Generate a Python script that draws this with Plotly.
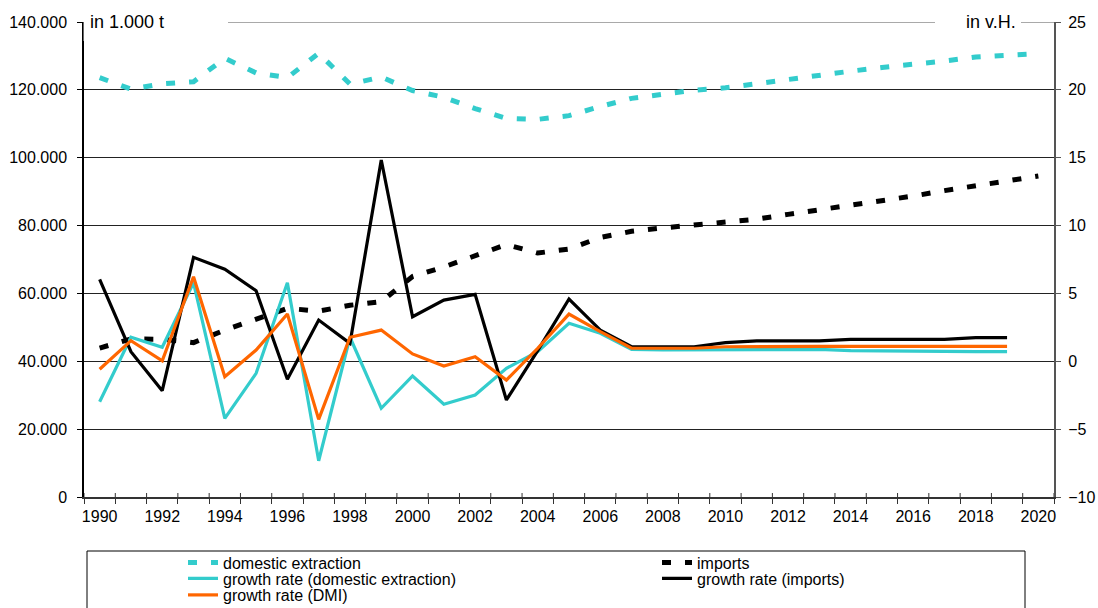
import plotly.graph_objects as go

# ---- data -------------------------------------------------------------
years = list(range(1990, 2021))
growth_years = list(range(1990, 2020))

# absolute values, in 1.000 t (left axis)
domestic_extraction = [
    123600, 120200, 121800, 122400, 129300, 125000, 123600, 130800, 121700, 123800,
    119800, 117800, 114500, 111600, 111300, 112400, 115100, 117500, 118700, 119900,
    120600, 121900, 123200, 124300, 125500, 126600, 127400, 128500, 129700, 130300,
    130700,
]
imports = [
    43900, 46600, 46500, 45500, 49200, 52500, 55600, 54800, 56500, 57600,
    65000, 67800, 71200, 74400, 71900, 73100, 76500, 78300, 79300, 80100,
    81000, 81900, 83300, 84600, 85900, 87200, 88700, 90300, 91700, 93200,
    94600,
]

# growth rates, in v.H. (right axis)
growth_domestic = [
    -2.98, 1.77, 1.03, 5.79, -4.20, -0.89, 5.79, -7.33, 1.77, -3.46,
    -1.08, -3.17, -2.48, -0.52, 0.71, 2.80, 2.06, 0.88, 0.83, 0.83,
    0.83, 0.88, 0.88, 0.88, 0.78, 0.75, 0.75, 0.71, 0.71, 0.71,
]
growth_imports = [
    6.04, 0.71, -2.17, 7.66, 6.78, 5.20, -1.33, 3.04, 1.32, 14.83,
    3.28, 4.51, 4.93, -2.85, 0.79, 4.59, 2.30, 1.07, 1.07, 1.07,
    1.38, 1.50, 1.50, 1.50, 1.62, 1.62, 1.62, 1.62, 1.74, 1.74,
]
growth_dmi = [
    -0.59, 1.52, 0.04, 6.23, -1.14, 0.83, 3.48, -4.28, 1.77, 2.30,
    0.54, -0.35, 0.34, -1.38, 0.96, 3.48, 2.18, 0.96, 0.96, 0.96,
    1.07, 1.10, 1.10, 1.10, 1.10, 1.10, 1.10, 1.10, 1.10, 1.10,
]

left_ticks = list(range(0, 140001, 20000))
right_ticks = list(range(-10, 26, 5))
label_years = list(range(1990, 2021, 2))

CYAN = "#33CCCC"
ORANGE = "#FF6600"
BLACK = "#000000"
FONT = "Liberation Sans, Arial, sans-serif"

W, H = 1098, 608
ML, MR, MT, MB = 84, 44, 22, 111
PW, PH = W - ML - MR, H - MT - MB


def px_x(px):
    return (px - ML) / PW


def px_y(py):
    return (H - MB - py) / PH


DASH = "9px,14px"

# one legend per entry so the two-column, tightly packed layout can be placed freely
fig = go.Figure()
fig.add_trace(go.Scatter(
    x=years, y=domestic_extraction, name="domestic extraction", mode="lines",
    line=dict(color=CYAN, width=5, dash=DASH), legend="legend",
))
fig.add_trace(go.Scatter(
    x=years, y=imports, name="imports", mode="lines",
    line=dict(color=BLACK, width=5, dash=DASH), legend="legend2",
))
fig.add_trace(go.Scatter(
    x=growth_years, y=growth_domestic, name="growth rate (domestic extraction)",
    mode="lines", yaxis="y2", line=dict(color=CYAN, width=3.2), legend="legend3",
))
fig.add_trace(go.Scatter(
    x=growth_years, y=growth_imports, name="growth rate (imports)",
    mode="lines", yaxis="y2", line=dict(color=BLACK, width=3.2), legend="legend4",
))
fig.add_trace(go.Scatter(
    x=growth_years, y=growth_dmi, name="growth rate (DMI)",
    mode="lines", yaxis="y2", line=dict(color=ORANGE, width=3.2), legend="legend5",
))

# category boundaries for the x tick marks
boundaries = [y - 0.5 for y in years] + [years[-1] + 0.5]

shapes = []
# top grid line
shapes.append(dict(type="line", xref="paper", yref="y", layer="below",
                   x0=0, x1=1, y0=left_ticks[-1], y1=left_ticks[-1],
                   line=dict(color="#555", width=1)))
# upper half of the crossing x tick marks
for b in boundaries:
    shapes.append(dict(type="line", xref="x", yref="paper", x0=b, x1=b,
                       y0=0, y1=4 / PH, line=dict(color="#333", width=1)))
# white panels behind the unit labels
shapes.append(dict(type="rect", xref="paper", yref="paper", layer="above",
                   x0=px_x(83.6), x1=px_x(228), y0=px_y(41), y1=px_y(0),
                   fillcolor="white", line=dict(width=0)))
shapes.append(dict(type="rect", xref="paper", yref="paper", layer="above",
                   x0=px_x(935), x1=px_x(1021), y0=px_y(40), y1=px_y(0),
                   fillcolor="white", line=dict(width=0)))
# legend frame
shapes.append(dict(type="rect", xref="paper", yref="paper", layer="above",
                   x0=px_x(87), x1=px_x(1025), y0=px_y(630), y1=px_y(551),
                   fillcolor="rgba(0,0,0,0)", line=dict(color="black", width=1)))

annotations = [
    dict(text="in 1.000 t", xref="paper", yref="paper", x=px_x(88), y=1,
         xanchor="left", yanchor="middle", showarrow=False,
         font=dict(family=FONT, size=18, color="black")),
    dict(text="in v.H.", xref="paper", yref="paper", x=px_x(1018), y=1,
         xanchor="right", yanchor="middle", showarrow=False,
         font=dict(family=FONT, size=18, color="black")),
]


def legend_at(text_left, row_centre):
    return dict(
        xref="container", yref="container",
        x=(text_left - 40) / W, y=1 - row_centre / H,
        xanchor="left", yanchor="middle",
        bgcolor="rgba(0,0,0,0)", borderwidth=0,
        font=dict(family=FONT, size=16, color="black"),
    )


COL1, COL2 = 223, 697
ROW1, ROW2, ROW3 = 562.5, 578.5, 595

fig.update_layout(
    width=W, height=H,
    margin=dict(l=ML, r=MR, t=MT, b=MB, pad=0, autoexpand=False),
    paper_bgcolor="white", plot_bgcolor="white",
    separators=",.",
    font=dict(family=FONT, size=16, color="black"),
    showlegend=True,
    legend=legend_at(COL1, ROW1),
    legend2=legend_at(COL2, ROW1),
    legend3=legend_at(COL1, ROW2),
    legend4=legend_at(COL2, ROW2),
    legend5=legend_at(COL1, ROW3),
    xaxis=dict(
        range=[1989.5, 2020.5], tickmode="array", tickvals=label_years,
        ticks="", ticklabelstandoff=4, showgrid=False, zeroline=False,
        showline=True, linecolor="#333", linewidth=1.5,
        tickfont=dict(family=FONT, size=16, color="black"),
        minor=dict(tickmode="array", tickvals=boundaries, ticks="outside",
                   ticklen=5, tickcolor="#333", tickwidth=1, showgrid=False),
    ),
    yaxis=dict(
        range=[0, 140000], tickmode="array", tickvals=left_ticks,
        tickformat=",d", ticks="outside", ticklen=5, tickcolor="black",
        ticklabelstandoff=7,
        showgrid=True, gridcolor="#222", gridwidth=1, zeroline=False,
        showline=True, linecolor="black", linewidth=1.5,
        tickfont=dict(family=FONT, size=16, color="black"),
    ),
    yaxis2=dict(
        range=[-10, 25], tickmode="array", tickvals=right_ticks,
        overlaying="y", side="right", ticks="outside", ticklen=5,
        tickcolor="#555", ticklabelstandoff=4,
        showgrid=False, zeroline=False,
        showline=True, linecolor="#555", linewidth=2,
        tickfont=dict(family=FONT, size=16, color="black"),
    ),
    shapes=shapes,
    annotations=annotations,
)

fig.write_html("out.html")
